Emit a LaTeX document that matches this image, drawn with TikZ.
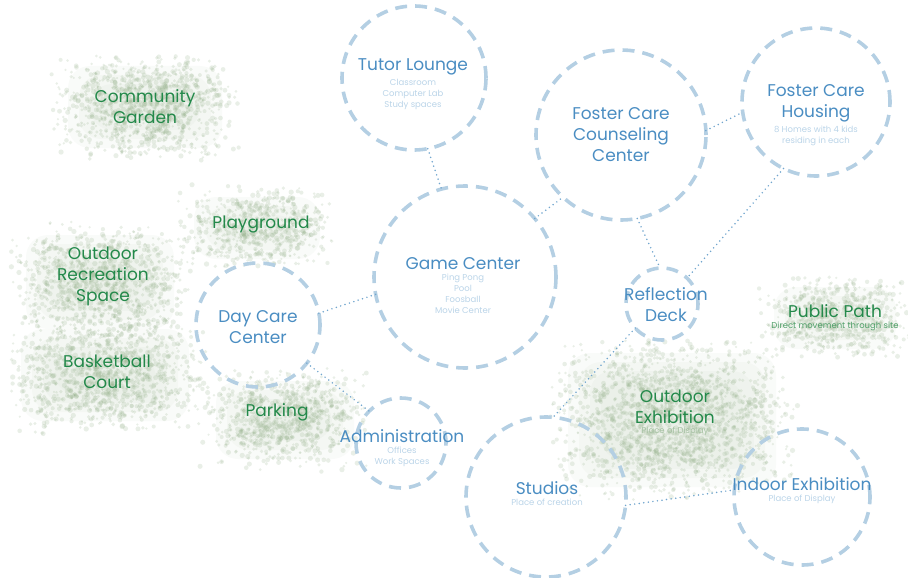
\documentclass[tikz,border=0pt]{standalone}
\usepackage{fontspec}
\setmainfont{Poppins}
\usepackage{tikz}
\usetikzlibrary{positioning}

\definecolor{ringblue}{HTML}{B4CFE3}
\definecolor{titleblue}{HTML}{4A8DC2}
\definecolor{subblue}{HTML}{BAD4E8}
\definecolor{linkblue}{HTML}{72A6CE}
\definecolor{greentext}{HTML}{23894A}
\definecolor{greensub}{HTML}{4E9F68}
\definecolor{greenfaint}{HTML}{A6C2A3}
\definecolor{speckgreen}{HTML}{93AF89}

\tikzset{
  area/.style={circle, draw=ringblue, line width=3.6pt, dash pattern=on 12pt off 8pt,
    inner sep=0pt, outer sep=0pt},
  link/.style={draw=linkblue, line width=1.7pt, line cap=round, dash pattern=on 0pt off 4.6pt},
  title/.style={text=titleblue, font=\fontsize{17}{21}\selectfont, align=center, inner sep=0pt},
  sub/.style={text=subblue, font=\fontsize{8.5}{11}\selectfont, align=center, inner sep=0pt},
  gtitle/.style={text=greentext, font=\fontsize{17}{21}\selectfont, align=center, inner sep=0pt},
  speck/.style={fill=speckgreen, fill opacity=0.2},
  haze/.style={fill=speckgreen, fill opacity=0.05, rounded corners=22pt}
}

% soft base and scattered green specks round a centre
\newcommand{\greenpatch}[5]{%
  \foreach \k in {1,...,4}
    \fill[haze] (#1-#3+\k*11,#2-#4+\k*9) rectangle (#1+#3-\k*11,#2+#4-\k*9);
  \foreach \i in {1,...,#5}{%
    \pgfmathsetmacro{\px}{#1+#3*(0.65*rand+0.45*rand)}%
    \pgfmathsetmacro{\py}{#2+#4*(0.65*rand+0.45*rand)}%
    \pgfmathsetmacro{\pr}{1.2+rnd*1.5}%
    \fill[speck] (\px,\py) circle (\pr pt);
  }}

\begin{document}
\begin{tikzpicture}[x=1pt, y=-1pt]
  \useasboundingbox (0,0) rectangle (908,578);
  \pgfmathsetseed{42}

  % green patches
  \greenpatch{145}{107}{88}{50}{1100}
  \greenpatch{257}{228}{74}{40}{650}
  \greenpatch{100}{282}{85}{56}{1000}
  \greenpatch{105}{375}{95}{55}{1100}
  \greenpatch{285}{420}{80}{48}{850}
  \greenpatch{835}{318}{72}{40}{650}
  \greenpatch{672}{420}{115}{76}{1800}

  % dashed circles
  \node[area, minimum size=144pt] (tutor)   at (414,78)  {};
  \node[area, minimum size=182pt] (game)    at (465,277) {};
  \node[area, minimum size=170pt] (counsel) at (621,135) {};
  \node[area, minimum size=148pt] (housing) at (816,102) {};
  \node[area, minimum size=72pt]  (deck)    at (662,304) {};
  \node[area, minimum size=124pt] (daycare) at (258,325) {};
  \node[area, minimum size=90pt]  (admin)   at (401,443) {};
  \node[area, minimum size=160pt] (studios) at (546,497) {};
  \node[area, minimum size=136pt] (indoor)  at (802,497) {};

  % dotted links
  \draw[link] (tutor.-79)   -- (game.105);
  \draw[link] (game.40)     -- (counsel.-133);
  \draw[link] (counsel.3)   -- (housing.-172);
  \draw[link] (counsel.-79) -- (deck.93);
  \draw[link] (housing.-116) -- (deck.46);
  \draw[link] (deck.-138)   -- (studios.85);
  \draw[link] (daycare.11)  -- (game.-169);
  \draw[link] (daycare.-38) -- (admin.135);
  \draw[link] (studios.-6)  -- (indoor.174);

  % blue labels
  \node[title] (tutorT) at (413,67) {Tutor Lounge};
  \node[sub, below=4pt of tutorT] (tutorS) {Classroom\\Computer Lab\\Study spaces};
  \node[title] (gameT) at (463,264) {Game Center};
  \node[sub, below=4pt of gameT] (gameS) {Ping Pong\\Pool\\Foosball\\Movie Center};
  \node[title] (counselT) at (621,135) {Foster Care\\Counseling\\Center};
  \node[title] (housingT) at (816,103) {Foster Care\\Housing};
  \node[sub, below=4pt of housingT] (housingS) {8 Homes with 4 kids\\residing in each};
  \node[title] (deckT) at (666,305) {Reflection\\Deck};
  \node[title] (daycareT) at (258,327) {Day Care\\Center};
  \node[title] (adminT) at (402,436) {Administration};
  \node[sub, below=4pt of adminT] (adminS) {Offices\\Work Spaces};
  \node[title] (studiosT) at (547,488) {Studios};
  \node[sub, below=4pt of studiosT] (studiosS) {Place of creation};
  \node[title] (indoorT) at (802,484) {Indoor Exhibition};
  \node[sub, below=4pt of indoorT] (indoorS) {Place of Display};

  % green labels
  \node[gtitle] (garden) at (145,107) {Community\\Garden};
  \node[gtitle] (playground) at (261,225) {Playground};
  \node[gtitle] (recreation) at (103,276) {Outdoor\\Recreation\\Space};
  \node[gtitle] (court) at (107,372) {Basketball\\Court};
  \node[gtitle] (parking) at (277,412) {Parking};
  \node[gtitle] (path) at (835,311) {Public Path};
  \node[sub, text=greensub, below=4pt of path] (pathS) {Direct movement through site};
  \node[gtitle] (outexh) at (675,407) {Outdoor\\Exhibition};
  \node[sub, text=greenfaint, below=3pt of outexh] (outexhS) {Place of Display};
\end{tikzpicture}
\end{document}
